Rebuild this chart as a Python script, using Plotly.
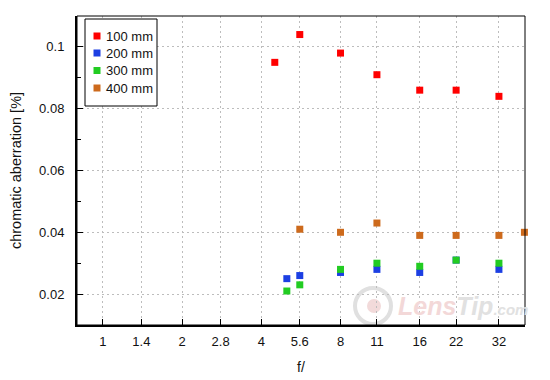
import math
import plotly.graph_objects as go

# ---- data ----
series_names = ["100 mm", "200 mm", "300 mm", "400 mm"]
series_colors = ["#ff0000", "#1c3fe3", "#22cc22", "#cd6a1c"]

f_100 = [4.5, 5.6, 8, 11, 16, 22, 32]
ca_100 = [0.095, 0.104, 0.098, 0.091, 0.086, 0.086, 0.084]

f_200 = [5.0, 5.6, 8, 11, 16, 22, 32]
ca_200 = [0.025, 0.026, 0.027, 0.028, 0.027, 0.031, 0.028]

f_300 = [5.0, 5.6, 8, 11, 16, 22, 32]
ca_300 = [0.021, 0.023, 0.028, 0.030, 0.029, 0.031, 0.030]

f_400 = [5.6, 8, 11, 16, 22, 32, 40]
ca_400 = [0.041, 0.040, 0.043, 0.039, 0.039, 0.039, 0.040]

x_tick_vals = [1, 1.4, 2, 2.8, 4, 5.6, 8, 11, 16, 22, 32]
x_tick_text = ["1", "1.4", "2", "2.8", "4", "5.6", "8", "11", "16", "22", "32"]
y_tick_vals = [0.02, 0.04, 0.06, 0.08, 0.1]
y_tick_text = ["0.02", "0.04", "0.06", "0.08", "0.1"]

xs = [f_100, f_200, f_300, f_400]
ys = [ca_100, ca_200, ca_300, ca_400]

FONT = "Liberation Sans, Arial, sans-serif"

# the page body adds an 8px offset; figure is sized so the plot area lands
# at the reference pixel positions
OFF = 8
L, R, T, B = 77, 525, 16, 325
W, H = R - L, B - T


def px(x):
    return (x - L) / W


def py(y):
    return (B - y) / H


fig = go.Figure()
for name, color, x, y in zip(series_names, series_colors, xs, ys):
    fig.add_trace(go.Scatter(
        x=x, y=y, mode="markers", name=name,
        marker=dict(symbol="square", size=7, color=color, line=dict(width=0)),
        showlegend=False, cliponaxis=False,
    ))

shapes = []
annotations = []

# watermark
shapes.append(dict(type="circle", xref="paper", yref="paper",
                   x0=px(355), x1=px(391), y0=py(324), y1=py(288),
                   line=dict(color="#e0e0e0", width=4), layer="below"))
shapes.append(dict(type="circle", xref="paper", yref="paper",
                   x0=px(367), x1=px(381), y0=py(313), y1=py(299),
                   fillcolor="#f2dada", line=dict(width=0), layer="below"))
annotations.append(dict(
    xref="paper", yref="paper", x=px(396), y=py(306), xanchor="left", yanchor="middle",
    showarrow=False,
    text="<b><i><span style='color:#f3d8d8'>Lens</span><span style='color:#e1e1e1'>Tip</span>"
         "<span style='color:#e1e1e1;font-size:15px'>.com</span></i></b>",
    font=dict(family=FONT, size=25),
))

# frame (top/right thin lines)
shapes.append(dict(type="rect", xref="paper", yref="paper", x0=0, x1=1, y0=0, y1=1,
                   line=dict(color="black", width=1), layer="above"))

# legend box
shapes.append(dict(type="rect", xref="paper", yref="paper",
                   x0=px(85), x1=px(157), y0=py(106), y1=py(19),
                   line=dict(color="black", width=1), fillcolor="white", layer="above"))
row_y = [36, 53, 70.5, 88]
for name, color, ry in zip(series_names, series_colors, row_y):
    shapes.append(dict(type="rect", xref="paper", yref="paper",
                       x0=px(93.5), x1=px(100.5), y0=py(ry + 3.5), y1=py(ry - 3.5),
                       fillcolor=color, line=dict(width=0), layer="above"))
    annotations.append(dict(xref="paper", yref="paper", x=px(104), y=py(ry),
                            xanchor="left", yanchor="middle", showarrow=False,
                            text=name, font=dict(family=FONT, size=13, color="#111")))

fig.update_layout(
    width=550 - OFF, height=380 - OFF,
    margin=dict(l=L - OFF, r=550 - R, t=T - OFF, b=380 - B, autoexpand=False),
    paper_bgcolor="white", plot_bgcolor="white",
    font=dict(family=FONT, size=13, color="#111"),
    shapes=shapes, annotations=annotations,
    showlegend=False,
)

fig.update_xaxes(
    type="log", automargin=False,
    range=[math.log10(0.797), math.log10(40.2)],
    tickvals=x_tick_vals, ticktext=x_tick_text,
    ticks="inside", ticklen=6, tickwidth=1, tickcolor="black",
    showline=True, linecolor="black", linewidth=2,
    showgrid=True, gridcolor="#bdbdbd", gridwidth=1, griddash="2px,3px",
    zeroline=False, ticklabelstandoff=3,
    title=dict(text="f/", font=dict(family=FONT, size=14), standoff=15),
)
fig.update_yaxes(
    range=[0.01, 0.11], automargin=False,
    tickvals=y_tick_vals, ticktext=y_tick_text,
    ticks="inside", ticklen=6, tickwidth=1, tickcolor="black",
    minor=dict(tickvals=[0.03, 0.05, 0.07, 0.09], ticks="inside", ticklen=4,
               tickcolor="black", showgrid=False),
    showline=True, linecolor="black", linewidth=2,
    showgrid=True, gridcolor="#bdbdbd", gridwidth=1, griddash="2px,3px",
    zeroline=False, ticklabelstandoff=8,
    title=dict(text="chromatic aberration [%]", font=dict(family=FONT, size=14.5), standoff=22),
)

fig.write_html("out.html")
